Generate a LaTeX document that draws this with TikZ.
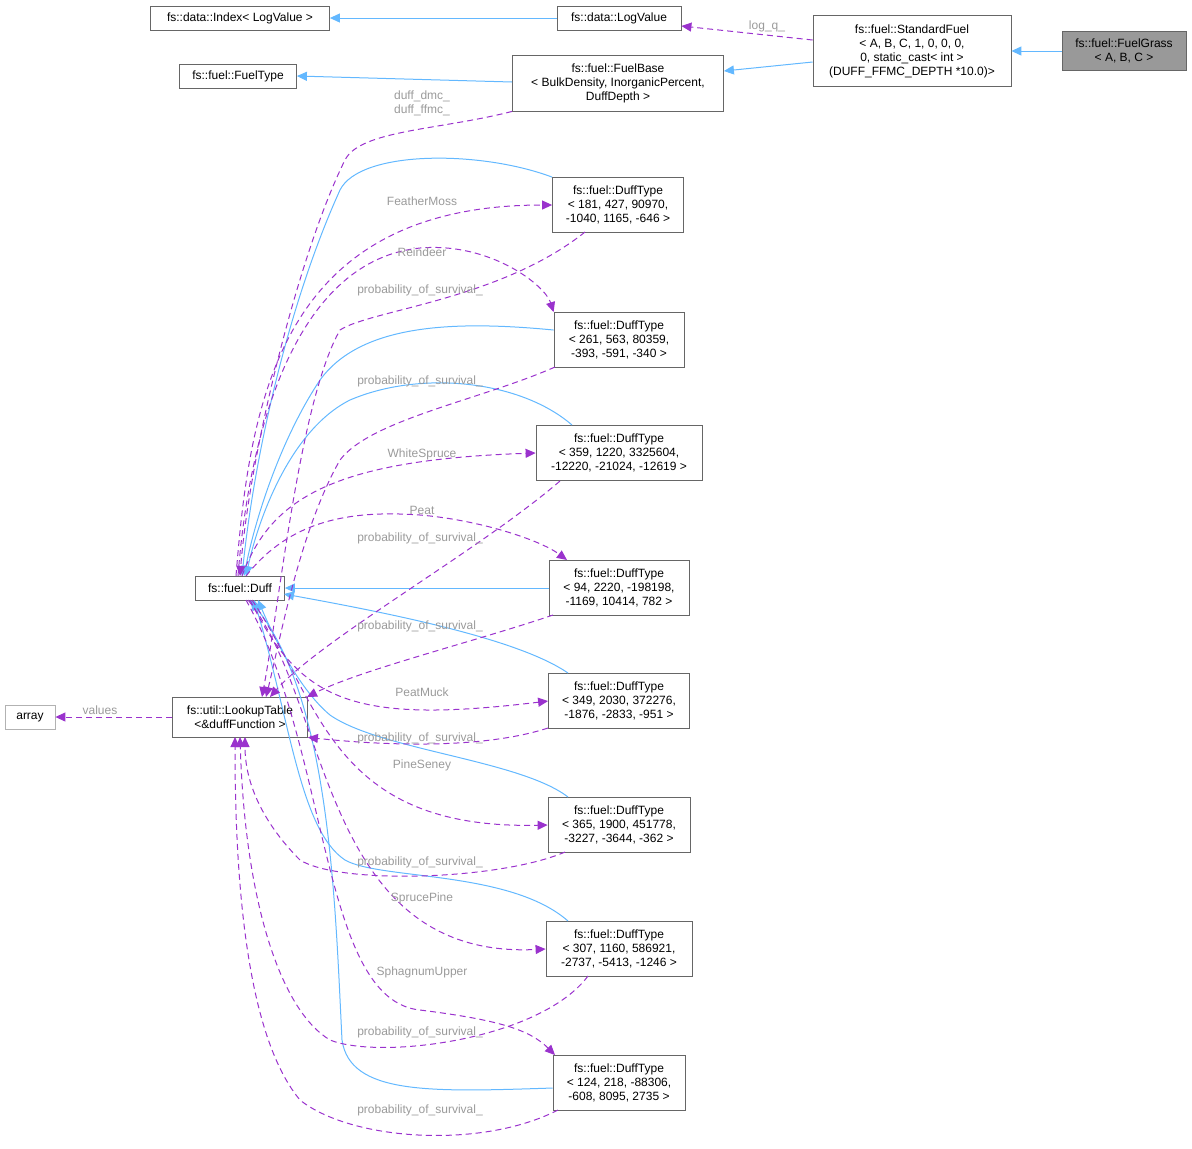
\documentclass[tikz,border=0pt]{standalone}
\usepackage{fontspec}
\setmainfont{Liberation Sans}
\usetikzlibrary{arrows.meta}
\definecolor{edgeblue}{HTML}{63B8FF}
\definecolor{edgepurple}{HTML}{9A32CD}
\definecolor{boxgray}{HTML}{666666}
\definecolor{labelgray}{HTML}{9A9A9A}

\begin{document}
\begin{tikzpicture}[
    x=0.5pt, y=-0.5pt,
    font=\fontsize{6}{7}\selectfont,
    cls/.style={rectangle, draw=boxgray, line width=0.4pt, fill=white, align=center, inner sep=1.5pt, minimum height=12pt},
    hl/.style={cls, fill=black!40, draw=black!60},
    ext/.style={cls, draw=black!30},
    inherit/.style={draw=edgeblue, line width=0.5pt, -{Triangle[length=5pt,width=4.5pt]}},
    uses/.style={draw=edgepurple, line width=0.5pt, dashed, dash pattern=on 3pt off 2pt, -{Triangle[length=5pt,width=4.5pt]}},
    lbl/.style={text=labelgray, font=\fontsize{6}{7}\selectfont, inner sep=0.5pt}
]
\useasboundingbox (0,0) rectangle (1192,1148);

% classes
\node[hl, minimum width=62pt, minimum height=19.5pt] (grass) at (1124,51) {fs::fuel::FuelGrass\\< A, B, C >};
\node[cls, minimum width=99pt, minimum height=35.5pt] (std) at (912,51) {fs::fuel::StandardFuel\\< A, B, C, 1, 0, 0, 0,\\ 0, static\_cast< int >\\(DUFF\_FFMC\_DEPTH *10.0)>};
\node[cls, minimum width=62pt] (logv) at (619,18) {fs::data::LogValue};
\node[cls, minimum width=89.5pt] (index) at (240,18) {fs::data::Index< LogValue >};
\node[cls, minimum width=58.5pt] (ftype) at (238,76) {fs::fuel::FuelType};
\node[cls, minimum width=105.5pt, minimum height=28pt] (base) at (618,83) {fs::fuel::FuelBase\\< BulkDensity, InorganicPercent,\\ DuffDepth >};
\node[cls, minimum width=44.5pt] (duff) at (240,588) {fs::fuel::Duff};
\node[cls, minimum width=67.5pt, minimum height=20pt] (lookup) at (240,717) {fs::util::LookupTable\\<\&duffFunction >};
\node[ext, minimum width=25pt] (arr) at (30,717) {array};

\node[cls, minimum width=65.5pt, minimum height=27.5pt] (dtA) at (618,205) {fs::fuel::DuffType\\< 181, 427, 90970,\\ -1040, 1165, -646 >};
\node[cls, minimum width=65pt, minimum height=27.5pt] (dtB) at (619,340) {fs::fuel::DuffType\\< 261, 563, 80359,\\ -393, -591, -340 >};
\node[cls, minimum width=83pt, minimum height=27.5pt] (dtC) at (619,453) {fs::fuel::DuffType\\< 359, 1220, 3325604,\\ -12220, -21024, -12619 >};
\node[cls, minimum width=70pt, minimum height=27.5pt] (dtD) at (619,588) {fs::fuel::DuffType\\< 94, 2220, -198198,\\ -1169, 10414, 782 >};
\node[cls, minimum width=70.5pt, minimum height=27.5pt] (dtE) at (619,701) {fs::fuel::DuffType\\< 349, 2030, 372276,\\ -1876, -2833, -951 >};
\node[cls, minimum width=71pt, minimum height=27.5pt] (dtF) at (619,825) {fs::fuel::DuffType\\< 365, 1900, 451778,\\ -3227, -3644, -362 >};
\node[cls, minimum width=73pt, minimum height=27.5pt] (dtG) at (619,949) {fs::fuel::DuffType\\< 307, 1160, 586921,\\ -2737, -5413, -1246 >};
\node[cls, minimum width=66pt, minimum height=27.5pt] (dtH) at (619,1083) {fs::fuel::DuffType\\< 124, 218, -88306,\\ -608, 8095, 2735 >};

% inheritance
\draw[inherit] (grass.west) -- (std.east);
\draw[inherit] (std.west |- 0,62) -- (base.east |- 0,71);
\draw[inherit] (logv.west) -- (index.east);
\draw[inherit] (base.west |- 0,82) -- (ftype.east |- 0,76);
\draw[inherit] (dtA.north west) .. controls (480,150) and (360,150) .. (340,190) .. controls (290,300) and (255,450) .. (242,576);
\draw[inherit] (dtB.west |- 0,330) .. controls (450,320) and (360,325) .. (320,380) .. controls (280,440) and (255,520) .. (244,576);
\draw[inherit] (572,425) .. controls (520,380) and (420,370) .. (350,400) .. controls (290,430) and (258,520) .. (246,576);
\draw[inherit] (dtD.west) -- (duff.east);
\draw[inherit] (568,673) .. controls (520,640) and (400,615) .. (284,594);
\draw[inherit] (568,797) .. controls (520,760) and (380,750) .. (330,715) .. controls (300,690) and (275,640) .. (258,600);
\draw[inherit] (568,921) .. controls (510,870) and (380,880) .. (345,860) .. controls (300,830) and (290,720) .. (254,600);
\draw[inherit] (dtH.west |- 0,1088) .. controls (430,1092) and (350,1095) .. (342,1040) .. controls (335,900) and (330,700) .. (250,600);

% members Duff -> DuffType
\draw[uses] (base.south west) .. controls (440,130) and (360,130) .. (345,160) .. controls (300,250) and (250,450) .. (240,576);
\draw[uses] (236,576) .. controls (250,400) and (280,205) .. (dtA.west);
\draw[uses] (238,576) .. controls (250,420) and (300,260) .. (420,248) .. controls (490,242) and (545,285) .. (dtB.north west);
\draw[uses] (242,576) .. controls (270,500) and (330,460) .. (dtC.west);
\draw[uses] (246,576) .. controls (290,520) and (350,510) .. (420,515) .. controls (480,520) and (540,540) .. (567,560);
\draw[uses] (250,600) .. controls (300,700) and (350,725) .. (dtE.west);
\draw[uses] (252,600) .. controls (320,700) and (330,830) .. (dtF.west);
\draw[uses] (248,600) .. controls (330,700) and (320,960) .. (dtG.west);
\draw[uses] (246,600) .. controls (330,750) and (320,1000) .. (420,1010) .. controls (500,1020) and (530,1030) .. (555,1055);

% members DuffType -> LookupTable
\draw[uses] (585,232) .. controls (500,300) and (370,310) .. (340,330) .. controls (300,400) and (280,600) .. (262,697);
\draw[uses] (555,367) .. controls (480,400) and (370,420) .. (340,460) .. controls (300,530) and (280,640) .. (266,697);
\draw[uses] (560,481) .. controls (480,550) and (320,640) .. (270,697);
\draw[uses] (553,615) .. controls (480,640) and (360,670) .. (307,697);
\draw[uses] (548,728) .. controls (480,750) and (380,745) .. (lookup.south east);
\draw[uses] (565,852) .. controls (500,880) and (340,885) .. (300,860) .. controls (270,830) and (245,790) .. (245,737);
\draw[uses] (588,976) .. controls (540,1040) and (380,1060) .. (330,1040) .. controls (280,1010) and (245,900) .. (240,737);
\draw[uses] (558,1110) .. controls (480,1150) and (350,1140) .. (300,1100) .. controls (250,1040) and (235,900) .. (235,737);
\draw[uses] (lookup.west) -- (arr.east);
\draw[uses] (std.west |- 0,40) -- (logv.east |- 0,26);

% labels
\node[lbl] (lq) at (767,26) {log\_q\_};
\node[lbl, align=center] (ld) at (422,103) {duff\_dmc\_\\duff\_ffmc\_};
\node[lbl] (l1) at (422,201) {FeatherMoss};
\node[lbl] (l2) at (422,252) {Reindeer};
\node[lbl] (l3) at (422,454) {WhiteSpruce};
\node[lbl] (l4) at (422,510) {Peat};
\node[lbl] (l5) at (422,692) {PeatMuck};
\node[lbl] (l6) at (422,765) {PineSeney};
\node[lbl] (l7) at (422,898) {SprucePine};
\node[lbl] (l8) at (422,972) {SphagnumUpper};
\node[lbl] (p1) at (420,290) {probability\_of\_survival\_};
\node[lbl] (p2) at (420,381) {probability\_of\_survival\_};
\node[lbl] (p3) at (420,538) {probability\_of\_survival\_};
\node[lbl] (p4) at (420,626) {probability\_of\_survival\_};
\node[lbl] (p5) at (420,738) {probability\_of\_survival\_};
\node[lbl] (p6) at (420,862) {probability\_of\_survival\_};
\node[lbl] (p7) at (420,1032) {probability\_of\_survival\_};
\node[lbl] (p8) at (420,1110) {probability\_of\_survival\_};
\node[lbl] (lv) at (100,710) {values};
\end{tikzpicture}
\end{document}
